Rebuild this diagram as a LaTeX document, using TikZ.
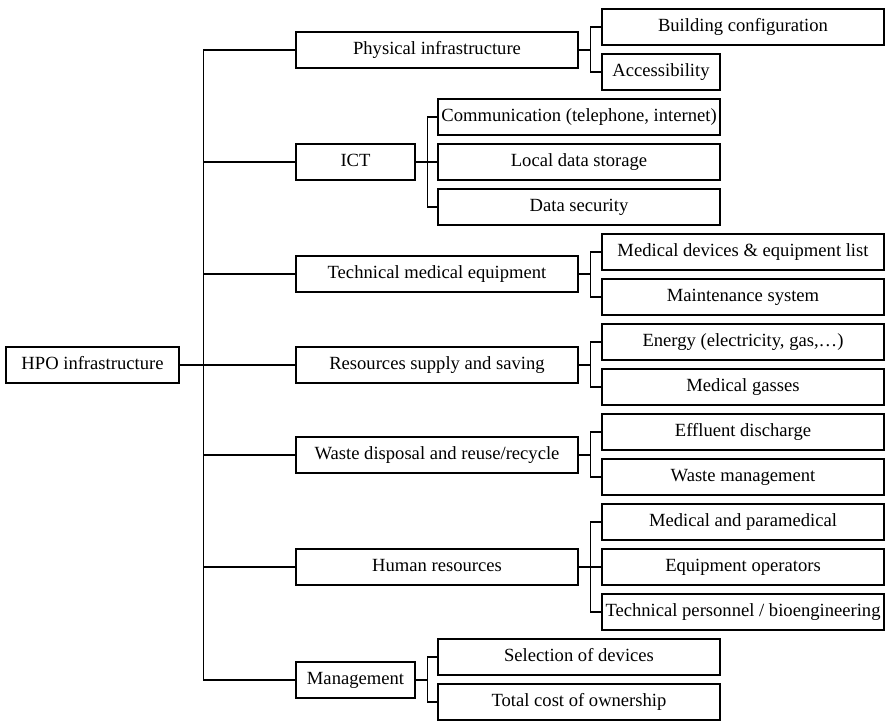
\documentclass[tikz,border=0pt]{standalone}
\usepackage{fontspec}
\setmainfont{Liberation Serif}
\tikzset{
  elbow/.style={to path={-- ++(#1,0) |- (\tikztotarget)}},
}
\begin{document}
\begin{tikzpicture}[x=1pt,y=-1pt,line width=1.1pt]

      \useasboundingbox (0,0) rectangle (885,721);

      \begin{scope}[every node/.style={draw,minimum height=36pt,inner sep=0pt,
          text height=13pt,text depth=4pt,font=\fontsize{18.6}{22}\selectfont}]
        % root and first level
        \node[minimum width=173pt] (root)  at (92.5,365) {HPO infrastructure};
        \node[minimum width=282pt] (phys)  at (437,50)  {Physical infrastructure};
        \node[minimum width=119pt] (ict)   at (355.5,162) {ICT};
        \node[minimum width=282pt] (tech)  at (437,274) {Technical medical equipment};
        \node[minimum width=282pt] (res)   at (437,365) {Resources supply and saving};
        \node[minimum width=282pt] (waste) at (437,455) {Waste disposal and reuse/recycle};
        \node[minimum width=282pt] (hum)   at (437,567) {Human resources};
        \node[minimum width=119pt] (mgmt)  at (355.5,680) {Management};
        % second level
        \node[minimum width=282pt] (build)    at (743,27)  {Building configuration};
        \node[minimum width=118pt] (access)   at (661,72)  {Accessibility};
        \node[minimum width=282pt] (comm)     at (579,117) {Communication (telephone, internet)};
        \node[minimum width=282pt] (storage)  at (579,162) {Local data storage};
        \node[minimum width=282pt] (security) at (579,207) {Data security};
        \node[minimum width=282pt] (devices)  at (743,252) {Medical devices \& equipment list};
        \node[minimum width=282pt] (maint)    at (743,297) {Maintenance system};
        \node[minimum width=282pt] (energy)   at (743,342) {Energy (electricity, gas,\dots)};
        \node[minimum width=282pt] (gasses)   at (743,387) {Medical gasses};
        \node[minimum width=282pt] (effluent) at (743,432) {Effluent discharge};
        \node[minimum width=282pt] (wastem)   at (743,477) {Waste management};
        \node[minimum width=282pt] (medpara)  at (743,522) {Medical and paramedical};
        \node[minimum width=282pt] (oper)     at (743,567) {Equipment operators};
        \node[minimum width=282pt] (techpers) at (743,612) {Technical personnel / bioengineering};
        \node[minimum width=282pt] (select)   at (579,657) {Selection of devices};
        \node[minimum width=282pt] (tco)      at (579,702) {Total cost of ownership};
      \end{scope}

      \begin{scope}[every edge/.style={draw}]
        \path (root.east)  edge[elbow=24] (phys.west);
        \path (root.east)  edge[elbow=24] (ict.west);
        \path (root.east)  edge[elbow=24] (tech.west);
        \path (root.east)  edge[elbow=24] (res.west);
        \path (root.east)  edge[elbow=24] (waste.west);
        \path (root.east)  edge[elbow=24] (hum.west);
        \path (root.east)  edge[elbow=24] (mgmt.west);

        \path (phys.east)  edge[elbow=12] (build.west);
        \path (phys.east)  edge[elbow=12] (access.west);
        \path (ict.east)   edge[elbow=12] (comm.west);
        \path (ict.east)   edge[elbow=12] (storage.west);
        \path (ict.east)   edge[elbow=12] (security.west);
        \path (tech.east)  edge[elbow=12] (devices.west);
        \path (tech.east)  edge[elbow=12] (maint.west);
        \path (res.east)   edge[elbow=12] (energy.west);
        \path (res.east)   edge[elbow=12] (gasses.west);
        \path (waste.east) edge[elbow=12] (effluent.west);
        \path (waste.east) edge[elbow=12] (wastem.west);
        \path (hum.east)   edge[elbow=12] (medpara.west);
        \path (hum.east)   edge[elbow=12] (oper.west);
        \path (hum.east)   edge[elbow=12] (techpers.west);
        \path (mgmt.east)  edge[elbow=12] (select.west);
        \path (mgmt.east)  edge[elbow=12] (tco.west);
      \end{scope}

    \end{tikzpicture}
\end{document}
